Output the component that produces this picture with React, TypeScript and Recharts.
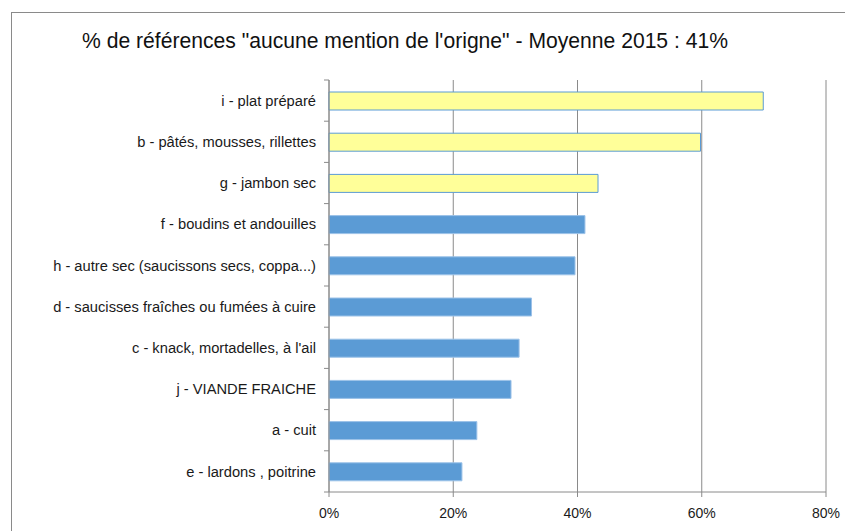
import React from "react";
import { BarChart, Bar, XAxis, YAxis, CartesianGrid, Cell } from "recharts";

const categories = [
  "i - plat préparé",
  "b - pâtés, mousses, rillettes",
  "g - jambon sec",
  "f - boudins et andouilles",
  "h - autre sec (saucissons secs, coppa...)",
  "d - saucisses fraîches ou fumées à cuire",
  "c - knack, mortadelles, à l'ail",
  "j - VIANDE FRAICHE ",
  "a - cuit",
  "e - lardons , poitrine",
];
const values = [69.9, 59.8, 43.3, 41.2, 39.6, 32.6, 30.6, 29.3, 23.8, 21.4];
const highlighted = [true, true, true, false, false, false, false, false, false, false];
const xTicks = [0, 20, 40, 60, 80];
const title = "% de références \"aucune mention de l'origne\" -  Moyenne 2015 : 41%";

const data = categories.map((name, i) => ({ name, value: values[i], hl: highlighted[i] }));

const GRAY = "#8a8a8a";
const FONT = "'Liberation Sans', Arial, sans-serif";
const TICK_SIZE = 5;
const TICK_MARGIN = 8;
const W = 845;
const H = 531;
const MARGIN = { top: 80, right: 19, bottom: 9, left: 9 };
const X_AXIS_H = 30;
const PLOT_H = H - MARGIN.top - MARGIN.bottom - X_AXIS_H;

function CategoryTick(props: any) {
  const { x, y, payload, index } = props;
  const half =
    payload && typeof payload.offset === "number" && payload.offset > 0
      ? payload.offset
      : PLOT_H / categories.length / 2;
  const axisX = Number(x) + TICK_SIZE + TICK_MARGIN;
  const isLast = index === categories.length - 1;
  return (
    <g className="cat-tick">
      <path d={`M${axisX - TICK_SIZE},${y - half}H${axisX}`} stroke={GRAY} strokeWidth={1} fill="none" />
      {isLast && <path d={`M${axisX - TICK_SIZE},${y + half}H${axisX}`} stroke={GRAY} strokeWidth={1} fill="none" />}
      <text x={x} y={y} dy="0.355em" textAnchor="end" fill="#1a1a1a" fontSize={14.7} fontFamily={FONT}>
        {payload.value}
      </text>
    </g>
  );
}

export default function App() {
  return (
    <div style={{ position: "absolute", left: 0, top: 0, width: W, height: H, background: "#fff", overflow: "hidden" }}>
      <div
        style={{
          position: "absolute",
          left: 11,
          top: 12,
          width: 900,
          height: 600,
          borderLeft: `1px solid ${GRAY}`,
          borderTop: `1px solid ${GRAY}`,
        }}
      />
      <svg width={W} height={H} style={{ position: "absolute", left: 0, top: 0 }}>
        <text x={82} y={48} fontFamily={FONT} fontSize={22} fill="#111" textLength={646} lengthAdjust="spacingAndGlyphs">
          {title}
        </text>
      </svg>
      <div style={{ position: "absolute", left: 0, top: 0 }}>
        <BarChart width={W} height={H} data={data} layout="vertical" margin={MARGIN} style={{ fontFamily: FONT }}>
          <CartesianGrid horizontal={false} vertical={true} stroke={GRAY} />
          <XAxis
            type="number"
            domain={[0, 80]}
            ticks={xTicks}
            tickFormatter={(v: number) => `${v}%`}
            height={X_AXIS_H}
            stroke={GRAY}
            tickSize={5}
            tickMargin={11}
            tick={{ fill: "#1a1a1a", fontSize: 14, fontFamily: FONT }}
            interval={0}
          />
          <YAxis
            type="category"
            dataKey="name"
            width={320}
            tickLine={false}
            axisLine={{ stroke: GRAY }}
            stroke={GRAY}
            tickSize={TICK_SIZE}
            tickMargin={TICK_MARGIN}
            interval={0}
            tick={(p: any) => <CategoryTick {...p} />}
          />
          <Bar dataKey="value" barSize={18} isAnimationActive={false}>
            {data.map((d, i) => (
              <Cell key={i} fill={d.hl ? "#FFFF99" : "#5B9BD5"} stroke={d.hl ? "#5B9BD5" : "#9CC2E8"} strokeWidth={1} />
            ))}
          </Bar>
        </BarChart>
      </div>
    </div>
  );
}
